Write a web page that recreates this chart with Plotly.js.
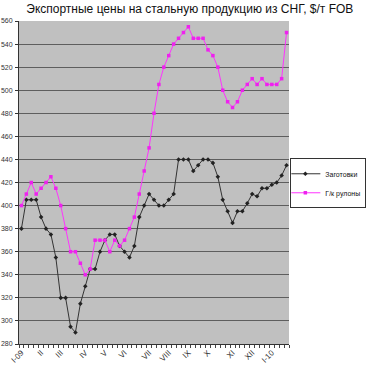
<!DOCTYPE html>
<html><head><meta charset="utf-8">
<script src="https://cdn.plot.ly/plotly-3.0.1.min.js"></script>
<style>html,body{margin:0;padding:0;background:#fff}#c{width:378px;height:367px}</style>
</head><body><div id="c"></div>
<script>
var billets = [380,405,405,405,390,380,375,355,320,320,295,290,315,330,345,345,360,370,375,375,365,360,355,365,390,400,410,405,400,400,405,410,440,440,440,430,435,440,440,437,425,405,395,385,395,395,402,410,408,415,415,418,420,426,435];
var hrc = [400,410,420,410,415,420,425,415,400,380,360,360,350,340,345,370,370,370,360,370,365,370,380,390,410,430,450,480,505,520,530,540,545,550,555,545,545,545,535,530,520,500,490,485,490,500,505,510,505,510,505,505,505,510,550];
var monthLabels = ["I-09","II","III","IV","V","VI","VII","VIII","IX","X","XI","XII","I-10"];
var monthWeek = [0,4,8,13,17,21,26,30,34,38,43,47,51];
var seriesNames = ["Заготовки","Г/к рулоны"];
var weeks = billets.map(function(_, i){ return i; });

var traces = [
  {x: weeks, y: billets, name: seriesNames[0], type: 'scatter', mode: 'lines+markers',
   line: {color: '#333333', width: 1}, marker: {symbol: 'diamond', size: 3.5, color: '#222222'}},
  {x: weeks, y: hrc, name: seriesNames[1], type: 'scatter', mode: 'lines+markers',
   line: {color: '#ff33ff', width: 1}, marker: {symbol: 'square', size: 3.5, color: '#ee22ee'}}
];
var layout = {
  width: 378, height: 367,
  margin: {l: 19, r: 61, t: 21, b: 23},
  paper_bgcolor: '#ffffff', plot_bgcolor: '#c0c0c0',
  font: {family: 'Liberation Sans, Arial, sans-serif', color: '#222'},
  title: {text: 'Экспортные цены на стальную продукцию из СНГ, $/т FOB', x: 0.027, xanchor: 'left', xref: 'paper', y: 0.975, yanchor: 'middle', font: {size: 12, color: '#111'}},
  xaxis: {range: [-0.5, 54.5], tickvals: monthWeek, ticktext: monthLabels, tickangle: -45,
    ticks: '', showgrid: false, zeroline: false, showline: true, linecolor: '#333', linewidth: 1,
    tickfont: {size: 8, color: '#333'},
    minor: {ticks: 'outside', dtick: 1, tick0: -0.5, ticklen: 3, tickcolor: '#444', showgrid: false}},
  yaxis: {range: [280, 560], dtick: 20, tick0: 280, ticks: 'outside', ticklen: 3, tickcolor: '#333',
    showgrid: true, gridcolor: '#5e5e5e', gridwidth: 1, zeroline: false, showline: true,
    linecolor: '#333', linewidth: 1, tickfont: {size: 7, color: '#333'}, ticklabelstandoff: 1},
  legend: {x: 1.005, xanchor: 'left', y: 0.575, yanchor: 'top', bgcolor: '#ffffff',
    bordercolor: '#333', borderwidth: 1, font: {size: 7, color: '#111'}, tracegroupgap: 0,
    itemwidth: 30, indentation: -6},
  showlegend: true
};
Plotly.newPlot('c', traces, layout, {staticPlot: true, displayModeBar: false});
</script></body></html>
